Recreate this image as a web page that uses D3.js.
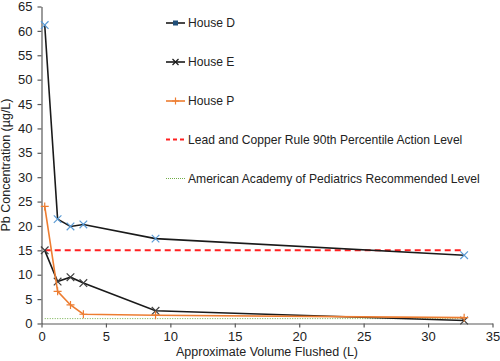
<!DOCTYPE html>
<html><head><meta charset="utf-8">
<script src="https://cdn.jsdelivr.net/npm/d3@7"></script>
<style>body{margin:0;background:#fff}svg{display:block}text{font-family:"Liberation Sans",Arial,sans-serif}</style>
</head><body><div id="c"></div>
<script>
const volumes = [0.25, 1.25, 2.25, 3.25, 8.85, 32.8];
const houseD = [61.2, 21.4, 19.9, 20.3, 17.4, 14.0];
const houseE = [15.0, 8.6, 9.5, 8.3, 2.6, 0.6];
const houseP = [24.0, 6.6, 3.8, 1.9, 1.7, 1.2];
const actionLevelX = [0.25, 32.8];
const actionLevel = [15, 15];
const aapLevel = [1, 1];
const xTicks = [0, 5, 10, 15, 20, 25, 30, 35];
const yTicks = [0, 5, 10, 15, 20, 25, 30, 35, 40, 45, 50, 55, 60, 65];
const legendLabels = ["House D", "House E", "House P", "Lead and Copper Rule 90th Percentile Action Level", "American Academy of Pediatrics Recommended Level"];

const W = 500, H = 361;
const svg = d3.select("#c").append("svg").attr("width", W).attr("height", H);
const x = d3.scaleLinear().domain([0, 35]).range([41.5, 492.5]);
const y = d3.scaleLinear().domain([0, 65]).range([323.5, 6.5]);
const axisColor = "#595959";

const xa = svg.append("g").attr("transform", `translate(0,${y(0)})`)
  .call(d3.axisBottom(x).tickValues(xTicks).tickSize(4).tickSizeOuter(0).tickPadding(4));
const ya = svg.append("g").attr("transform", `translate(${x(0)},0)`)
  .call(d3.axisLeft(y).tickValues(yTicks).tickSize(4).tickSizeOuter(0).tickPadding(5));
[xa, ya].forEach(a => {
  a.selectAll("path,line").attr("stroke", axisColor).attr("stroke-width", 1.2);
  a.selectAll("text").attr("font-size", 13).attr("fill", "#222").attr("font-family", '"Liberation Sans",Arial,sans-serif');
});

svg.append("text").attr("x", (x(0) + x(35)) / 2).attr("y", 356).attr("text-anchor", "middle")
  .attr("font-size", 12.5).attr("fill", "#222").text("Approximate Volume Flushed (L)");
svg.append("text").attr("transform", `translate(10,${(y(0) + y(65)) / 2}) rotate(-90)`).attr("text-anchor", "middle")
  .attr("font-size", 12.5).attr("fill", "#222").text("Pb Concentration (µg/L)");

const line = d3.line().x(d => x(d[0])).y(d => y(d[1]));
const zip = (xs, ys) => xs.map((v, i) => [v, ys[i]]);

svg.append("path").datum(zip(actionLevelX, aapLevel)).attr("d", line).attr("fill", "none")
  .attr("stroke", "#70AD47").attr("stroke-width", 1).attr("stroke-dasharray", "1,1.5");
svg.append("path").datum(zip(actionLevelX, actionLevel)).attr("d", line).attr("fill", "none")
  .attr("stroke", "#FF2020").attr("stroke-width", 2).attr("stroke-dasharray", "6,4");

function xMark(g, cx, cy, s, col) {
  g.append("path").attr("d", `M${cx - s},${cy - s}L${cx + s},${cy + s}M${cx - s},${cy + s}L${cx + s},${cy - s}`)
    .attr("stroke", col).attr("stroke-width", 1.2).attr("fill", "none");
}
function plusMark(g, cx, cy, s, col) {
  g.append("path").attr("d", `M${cx - s},${cy}L${cx + s},${cy}M${cx},${cy - s}L${cx},${cy + s}`)
    .attr("stroke", col).attr("stroke-width", 1.2).attr("fill", "none");
}

const series = [
  {vals: houseD, line: "#1a1a1a", mk: "#5B9BD5", type: "x"},
  {vals: houseE, line: "#1a1a1a", mk: "#404040", type: "x"},
  {vals: houseP, line: "#ED7D31", mk: "#ED7D31", type: "+"}
];
series.forEach(s => {
  const g = svg.append("g");
  g.append("path").datum(zip(volumes, s.vals)).attr("d", line).attr("fill", "none")
    .attr("stroke", s.line).attr("stroke-width", 1.6);
  zip(volumes, s.vals).forEach(d => {
    if (s.type === "x") xMark(g, x(d[0]), y(d[1]), 3.8, s.mk);
    else plusMark(g, x(d[0]), y(d[1]), 4, s.mk);
  });
});

const lg = svg.append("g");
const ly = [23, 62, 101, 139.5, 178.5];
const lx0 = 166, lx1 = 185;
legendLabels.forEach((t, i) => {
  lg.append("text").attr("x", 188).attr("y", ly[i]).attr("dy", "0.35em").attr("font-size", 12.1).attr("fill", "#222").text(t);
});
lg.append("line").attr("x1", lx0).attr("x2", lx1).attr("y1", ly[0]).attr("y2", ly[0]).attr("stroke", "#1a1a1a").attr("stroke-width", 1.6);
lg.append("rect").attr("x", 173).attr("y", ly[0] - 2.5).attr("width", 5).attr("height", 5).attr("fill", "#1F4E79");
lg.append("line").attr("x1", lx0).attr("x2", lx1).attr("y1", ly[1]).attr("y2", ly[1]).attr("stroke", "#1a1a1a").attr("stroke-width", 1.6);
xMark(lg, 175.5, ly[1], 3, "#1a1a1a");
lg.append("line").attr("x1", lx0).attr("x2", lx1).attr("y1", ly[2]).attr("y2", ly[2]).attr("stroke", "#ED7D31").attr("stroke-width", 1.6);
plusMark(lg, 175.5, ly[2], 3.5, "#ED7D31");
lg.append("line").attr("x1", lx0).attr("x2", lx1).attr("y1", ly[3]).attr("y2", ly[3]).attr("stroke", "#FF2020").attr("stroke-width", 2).attr("stroke-dasharray", "4,3");
lg.append("line").attr("x1", lx0).attr("x2", lx1).attr("y1", ly[4]).attr("y2", ly[4]).attr("stroke", "#70AD47").attr("stroke-width", 1).attr("stroke-dasharray", "1,1");
</script></body></html>
